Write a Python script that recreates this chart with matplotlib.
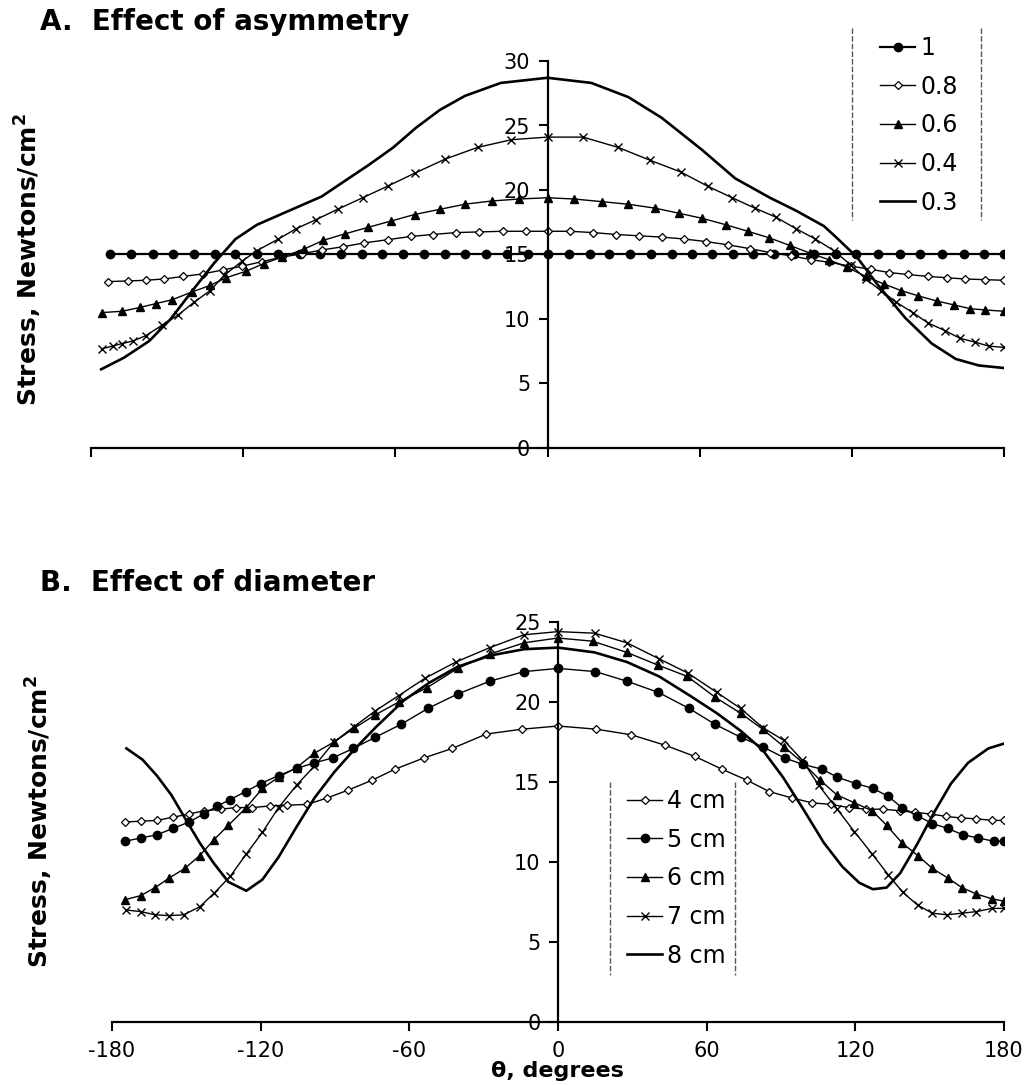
import matplotlib
matplotlib.use("Agg")
import matplotlib.pyplot as plt
from matplotlib.lines import Line2D

plt.rcParams['font.family'] = ['DejaVu Sans']
plt.rcParams['axes.unicode_minus'] = False

# ---------------- Panel A: effect of asymmetry ----------------
a_theta_10 = [-172.4, -164.1, -155.7, -147.6, -139.4, -131.0, -123.1, -114.6, -106.1, -97.6, -89.9,
              -81.4, -73.3, -65.1, -56.9, -48.5, -40.3, -32.5, -24.1, -15.8, -7.8, 0,
              8.6, 16.6, 24.2, 32.5, 40.8, 48.9, 56.9, 64.8, 73.1, 81.1, 89.3,
              97.2, 105.2, 113.6, 121.5, 130.2, 138.8, 146.8, 155.5, 164.1, 172.1, 180]
a_val_10 = [15.0, 15.0, 15.0, 15.0, 15.0, 15.0, 15.0, 15.0, 15.0, 15.0, 15.0,
            15.0, 15.0, 15.0, 15.0, 15.0, 15.0, 15.0, 15.0, 15.0, 15.0, 15.0,
            15.0, 15.0, 15.0, 15.0, 15.0, 15.0, 15.0, 15.0, 15.0, 15.0, 15.0,
            15.0, 15.0, 15.0, 15.0, 15.0, 15.0, 15.0, 15.0, 15.0, 15.0, 15.0]

a_theta_08 = [-173.3, -165.6, -158.5, -151.4, -143.6, -135.8, -128.1, -120.3, -112.5, -104.7, -96.9,
              -89.1, -80.7, -72.2, -63.0, -53.8, -45.3, -36.1, -26.9, -17.7, -8.5, 0,
              8.8, 18, 27.2, 36, 45, 54, 62.6, 71.2, 79.9, 87.9, 96,
              103.9, 111, 119.5, 127.5, 134.8, 142, 150, 157.4, 164.7, 172.6, 180]
a_val_08 = [12.9, 12.95, 13.0, 13.1, 13.3, 13.5, 13.8, 14.1, 14.45, 14.8, 15.05,
            15.35, 15.6, 15.9, 16.15, 16.4, 16.55, 16.7, 16.75, 16.8, 16.8, 16.8,
            16.8, 16.7, 16.55, 16.45, 16.35, 16.2, 16.0, 15.75, 15.45, 15.15, 14.9,
            14.6, 14.4, 14.1, 13.85, 13.6, 13.45, 13.3, 13.2, 13.1, 13.05, 13.0]

a_theta_06 = [-175.5, -167.7, -160.6, -154.3, -147.9, -140.1, -133.1, -126.7, -118.9, -111.8, -104.7,
              -96.2, -88.4, -79.9, -70.8, -61.6, -52.4, -42.5, -32.5, -21.9, -11.3, 0,
              10.6, 21.3, 31.6, 42.2, 51.8, 61.1, 70.4, 79.0, 87.3, 95.6, 103.6,
              110.9, 118.2, 125.5, 132.8, 139.5, 146.1, 153.4, 160.1, 166.7, 172.6, 180]
a_val_06 = [10.5, 10.6, 10.9, 11.2, 11.5, 12.1, 12.6, 13.2, 13.7, 14.3, 14.8,
            15.4, 16.1, 16.6, 17.1, 17.6, 18.1, 18.5, 18.9, 19.15, 19.3, 19.4,
            19.3, 19.1, 18.9, 18.6, 18.2, 17.8, 17.3, 16.8, 16.3, 15.7, 15.1,
            14.6, 14.0, 13.3, 12.7, 12.2, 11.8, 11.4, 11.1, 10.8, 10.7, 10.6]

a_theta_04 = [-175.5, -171.5, -167.7, -163.4, -158.5, -152.1, -145.7, -139.4, -133.0, -127.4, -120.3,
              -114.6, -106.1, -99.1, -91.3, -82.8, -72.9, -63.0, -52.4, -40.3, -27.6, -14.2, 0,
              14, 27.9, 40.5, 52.5, 63.1, 72.8, 81.7, 90, 98, 105.6, 112.9,
              119.5, 125.5, 131.5, 137.5, 144, 150, 156.7, 162.7, 168.7, 174, 180]
a_val_04 = [7.7, 7.9, 8.1, 8.3, 8.7, 9.5, 10.3, 11.3, 12.2, 13.4, 14.5,
            15.3, 16.2, 17.0, 17.7, 18.5, 19.4, 20.3, 21.3, 22.4, 23.3, 23.9, 24.1,
            24.1, 23.3, 22.3, 21.4, 20.3, 19.4, 18.6, 17.9, 17.0, 16.2, 15.3,
            14.2, 13.1, 12.2, 11.3, 10.5, 9.7, 9.1, 8.5, 8.2, 7.9, 7.8]

a_theta_03 = [-176, -167, -157, -148.6, -140, -131.6, -123, -114.6, -103, -89, -80.7, -70.8,
              -60.8, -52, -42.5, -32.5, -18.4, 0, 17.3, 31.9, 45, 61, 74, 87.7, 98,
              109, 114, 122, 130, 141, 151.5, 161, 170, 180]
a_val_03 = [6.1, 7.0, 8.3, 10.0, 12.2, 14.3, 16.2, 17.3, 18.3, 19.5, 20.6, 21.9,
            23.3, 24.8, 26.2, 27.3, 28.3, 28.7, 28.3, 27.2, 25.6, 23.1, 20.9, 19.4, 18.4,
            17.2, 16.3, 14.8, 12.7, 10.1, 8.1, 6.9, 6.4, 6.2]

# ---------------- Panel B: effect of diameter ----------------
b_theta_4 = [-174.6, -168.4, -161.9, -155.4, -148.9, -142.9, -136.2, -130.1, -123.6, -116.4, -109.2,
             -101.2, -93.2, -84.6, -75.2, -65.8, -54.2, -42.6, -28.9, -14.5, 0,
             15.5, 29.6, 43.2, 55.2, 66.2, 76.4, 85.3, 94.5, 102.5, 110, 117.5,
             124.4, 131.2, 138, 144.2, 150.4, 156.6, 162.7, 168.9, 175.1, 180]
b_val_4 = [12.5, 12.55, 12.6, 12.8, 13.0, 13.2, 13.3, 13.4, 13.4, 13.5, 13.55,
           13.6, 14.0, 14.5, 15.1, 15.8, 16.5, 17.1, 18.0, 18.3, 18.5,
           18.3, 17.95, 17.3, 16.6, 15.8, 15.1, 14.4, 14.0, 13.7, 13.6, 13.4,
           13.3, 13.3, 13.2, 13.1, 13.0, 12.85, 12.75, 12.7, 12.6, 12.6]

b_theta_5 = [-174.6, -168.4, -161.9, -155.4, -148.9, -143, -137.5, -132.3, -126.1, -120, -112.8,
             -105.5, -98.3, -91, -82.6, -73.7, -63.4, -52.5, -40.5, -27.5, -13.7, 0,
             15.1, 27.8, 40.5, 52.9, 63.4, 73.7, 82.6, 91.5, 98.8, 106.6, 112.7,
             120.3, 127.1, 133.3, 138.8, 144.9, 151.1, 157.3, 163.4, 169.6, 175.8, 180]
b_val_5 = [11.3, 11.5, 11.7, 12.1, 12.5, 13.0, 13.5, 13.9, 14.4, 14.9, 15.4,
           15.85, 16.2, 16.5, 17.1, 17.8, 18.6, 19.6, 20.5, 21.3, 21.9, 22.1,
           21.9, 21.3, 20.6, 19.6, 18.6, 17.8, 17.2, 16.5, 16.1, 15.8, 15.3,
           14.9, 14.6, 14.1, 13.4, 12.9, 12.4, 12.1, 11.7, 11.5, 11.3, 11.3]

b_theta_6 = [-174.6, -168.4, -162.6, -156.9, -150.6, -144.6, -138.8, -133, -125.8, -119.3, -112.8,
             -105.5, -98.3, -90.4, -82.4, -73.7, -64.3, -52.8, -40.5, -27.5, -13.7, 0,
             14, 27.8, 40.4, 52.2, 63.4, 73.7, 82.6, 91.2, 98.8, 105.9, 112.5,
             119.6, 126.8, 132.6, 138.8, 145.2, 151.1, 157.3, 163, 168.9, 175.1, 180]
b_val_6 = [7.65, 7.9, 8.4, 9.0, 9.6, 10.4, 11.4, 12.3, 13.4, 14.6, 15.3,
           15.9, 16.8, 17.5, 18.35, 19.2, 20.0, 20.9, 22.1, 23.0, 23.7, 24.0,
           23.8, 23.1, 22.3, 21.6, 20.3, 19.3, 18.3, 17.2, 16.2, 15.1, 14.2,
           13.7, 13.2, 12.3, 11.2, 10.4, 9.6, 9.0, 8.4, 8.0, 7.7, 7.55]

b_theta_7 = [-174.2, -168.4, -162.6, -156.9, -151.1, -144.6, -138.8, -132.3, -125.8, -119.3, -112.8,
             -105.5, -98.3, -90.4, -82.4, -73.7, -64.3, -53.5, -41.2, -27.5, -13.7, 0,
             14.8, 27.8, 40.8, 52.5, 64.1, 73.7, 82.6, 91.2, 98.4, 105.2, 112.7,
             119.6, 126.8, 133.3, 139.2, 145.2, 151.1, 157, 163, 168.9, 175.1, 180]
b_val_7 = [7.0, 6.9, 6.7, 6.65, 6.7, 7.2, 8.05, 9.1, 10.5, 11.85, 13.4,
           14.8, 16.0, 17.5, 18.45, 19.45, 20.4, 21.5, 22.5, 23.4, 24.2, 24.4,
           24.3, 23.7, 22.7, 21.8, 20.6, 19.6, 18.4, 17.6, 16.4, 14.8, 13.3,
           11.9, 10.5, 9.2, 8.1, 7.3, 6.8, 6.7, 6.8, 6.9, 7.1, 7.1]

b_theta_8 = [-174.2, -167.7, -161.9, -156.1, -150.4, -144.6, -138.8, -133, -125.8, -119.3, -112.8,
             -105.5, -98.3, -90.4, -82.4, -73.7, -62.2, -52, -40.5, -27.5, -13.7, 0,
             14.8, 27.8, 40.8, 53.2, 64.1, 73.7, 82.6, 90.8, 99, 107.3, 114.8,
             121.6, 127.1, 132.6, 138.1, 144.9, 151.8, 158.6, 165.5, 173.7, 180]
b_val_8 = [17.1, 16.4, 15.4, 14.2, 12.7, 11.2, 9.9, 8.75, 8.2, 8.9, 10.3,
           12.2, 14.0, 15.6, 17.0, 18.4, 20.1, 21.2, 22.2, 22.9, 23.3, 23.4,
           23.1, 22.5, 21.6, 20.4, 19.3, 18.2, 17.0, 15.3, 13.3, 11.2, 9.7,
           8.7, 8.3, 8.4, 9.3, 11.1, 13.1, 14.9, 16.2, 17.1, 17.4]

x_ticks = [-180, -120, -60, 0, 60, 120, 180]

W, H = 1029, 1085
fig = plt.figure(figsize=(W / 100, H / 100), dpi=100)


def px_axes(left, right, top, bottom):
    return fig.add_axes([left / W, 1 - bottom / H, (right - left) / W, (bottom - top) / H])


def style_axes(ax, ymax, show_xlabels):
    ax.set_xlim(-180, 180)
    ax.set_ylim(0, ymax)
    ax.spines['left'].set_position(('data', 0))
    ax.spines['top'].set_visible(False)
    ax.spines['right'].set_visible(False)
    for s in ('left', 'bottom'):
        ax.spines[s].set_linewidth(1.6)
        ax.spines[s].set_zorder(5)
    ax.set_xticks(x_ticks)
    ax.set_yticks(range(0, ymax + 1, 5))
    ax.tick_params(axis='both', direction='out', length=6.5, width=1.5, labelsize=15)
    ax.tick_params(axis='y', pad=6)
    ax.tick_params(axis='x', pad=7)
    if not show_xlabels:
        ax.set_xticklabels([])
    ax.patch.set_alpha(0)


lw_m = 1.0
lw_s = 1.9
k = 'black'
ylab = 'Stress, Newtons/cm$^{\\mathbf{2}}$'
leg_kw = dict(frameon=False, fontsize=17, handlelength=1.5, handletextpad=0.2,
              labelspacing=0.62, borderpad=0, borderaxespad=0)

# --- panel A
axA = px_axes(91, 1004, 61, 448)
style_axes(axA, 30, False)
axA.plot(a_theta_10, a_val_10, color=k, lw=1.6, marker='o', ms=6, label='1')
axA.plot(a_theta_08, a_val_08, color=k, lw=lw_m, marker='D', ms=3.6, mfc='white', mew=0.9, label='0.8')
axA.plot(a_theta_06, a_val_06, color=k, lw=lw_m, marker='^', ms=5.5, label='0.6')
axA.plot(a_theta_04, a_val_04, color=k, lw=lw_m, marker='x', ms=6, mew=1.0, label='0.4')
axA.plot(a_theta_03, a_val_03, color=k, lw=lw_s, label='0.3')
axA.set_ylabel(ylab, fontsize=18, fontweight='bold')
axA.yaxis.set_label_coords(-0.052, 0.486)
axA.legend(loc='upper left', bbox_to_anchor=(880 / W, 1 - 36 / H), bbox_transform=fig.transFigure, **leg_kw)
fig.text(40 / W, 1 - 22 / H, 'A.  Effect of asymmetry', fontsize=20, fontweight='bold', va='center')
for xp in (852, 981):
    fig.add_artist(Line2D([xp / W, xp / W], [1 - 28 / H, 1 - 220 / H], transform=fig.transFigure,
                          color='0.35', lw=1.0, ls=(0, (4, 1.5))))

# --- panel B
axB = px_axes(112, 1004, 622, 1022)
style_axes(axB, 25, True)
axB.plot(b_theta_4, b_val_4, color=k, lw=lw_m, marker='D', ms=3.6, mfc='white', mew=0.9, label='4 cm')
axB.plot(b_theta_5, b_val_5, color=k, lw=lw_m, marker='o', ms=6, label='5 cm')
axB.plot(b_theta_6, b_val_6, color=k, lw=lw_m, marker='^', ms=5.5, label='6 cm')
axB.plot(b_theta_7, b_val_7, color=k, lw=lw_m, marker='x', ms=6, mew=1.0, label='7 cm')
axB.plot(b_theta_8, b_val_8, color=k, lw=lw_s, label='8 cm')
axB.set_ylabel(ylab, fontsize=18, fontweight='bold')
axB.yaxis.set_label_coords(-0.064, 0.5)
axB.legend(loc='upper left', bbox_to_anchor=(627 / W, 1 - 789 / H), bbox_transform=fig.transFigure, **leg_kw)
fig.text(40 / W, 1 - 583 / H, 'B.  Effect of diameter', fontsize=20, fontweight='bold', va='center')
fig.text(557 / W, 1 - 1071 / H, 'θ, degrees', fontsize=16, fontweight='bold', ha='center', va='center')
for xp in (610, 735):
    fig.add_artist(Line2D([xp / W, xp / W], [1 - 782 / H, 1 - 975 / H], transform=fig.transFigure,
                          color='0.35', lw=1.0, ls=(0, (4, 1.5))))

fig.savefig('out.png', dpi=100)
